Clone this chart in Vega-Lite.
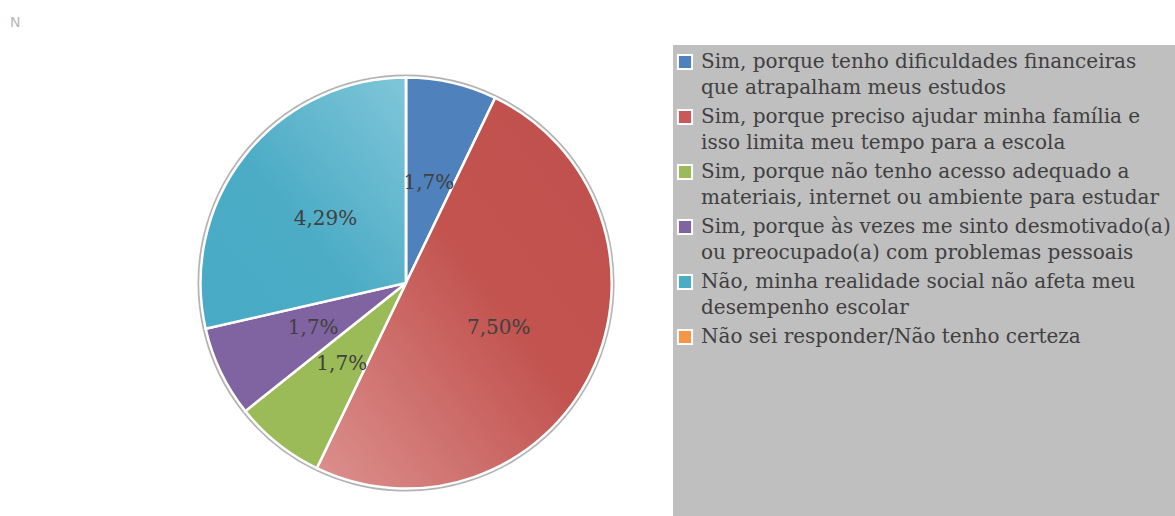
{
  "$schema": "https://vega.github.io/schema/vega-lite/v6.json",
  "width": 412,
  "height": 412,
  "autosize": {"type": "none"},
  "padding": {"left": 200, "top": 77, "right": 563, "bottom": 27},
  "background": "white",
  "title": {"text": "N", "anchor": "start", "frame": "group", "dx": -190, "offset": 15, "baseline": "top", "fontSize": 14, "fontWeight": "normal", "font": "DejaVu Sans", "color": "#b8b8b8"},
  "data": {
    "values": [
      {"ord": 1, "categoria": "Sim, porque tenho dificuldades financeiras\nque atrapalham meus estudos", "n": 1, "rotulo": "1,7%"},
      {"ord": 2, "categoria": "Sim, porque preciso ajudar minha família e\nisso limita meu tempo para a escola", "n": 7, "rotulo": "7,50%"},
      {"ord": 3, "categoria": "Sim, porque não tenho acesso adequado a\nmateriais, internet ou ambiente para estudar", "n": 1, "rotulo": "1,7%"},
      {"ord": 4, "categoria": "Sim, porque às vezes me sinto desmotivado(a)\nou preocupado(a) com problemas pessoais", "n": 1, "rotulo": "1,7%"},
      {"ord": 5, "categoria": "Não, minha realidade social não afeta meu\ndesempenho escolar", "n": 4, "rotulo": "4,29%"},
      {"ord": 6, "categoria": "Não sei responder/Não tenho certeza", "n": 0, "rotulo": ""}
    ]
  },
  "encoding": {
    "theta": {"field": "n", "type": "quantitative", "stack": true},
    "order": {"field": "ord", "type": "quantitative"}
  },
  "layer": [
    {"mark": {"type": "arc", "outerRadius": 208.5, "fill": "#b3b3b3", "stroke": null}},
    {
      "mark": {"type": "arc", "outerRadius": 205.5, "stroke": "white", "strokeWidth": 2.5},
      "encoding": {
        "color": {
          "field": "categoria",
          "type": "nominal",
          "condition": [
            {"test": "datum.ord == 2", "value": {"gradient": "linear", "x1": 1, "y1": 0, "x2": 0, "y2": 1, "stops": [{"offset": 0, "color": "#c0504d"}, {"offset": 0.45, "color": "#c2534f"}, {"offset": 1, "color": "#dc918f"}]}},
            {"test": "datum.ord == 5", "value": {"gradient": "linear", "x1": 1, "y1": 0, "x2": 0, "y2": 1, "stops": [{"offset": 0, "color": "#80c6d9"}, {"offset": 0.55, "color": "#4cacc6"}, {"offset": 1, "color": "#48aac5"}]}}
          ],
          "scale": {
            "domain": [
              "Sim, porque tenho dificuldades financeiras\nque atrapalham meus estudos",
              "Sim, porque preciso ajudar minha família e\nisso limita meu tempo para a escola",
              "Sim, porque não tenho acesso adequado a\nmateriais, internet ou ambiente para estudar",
              "Sim, porque às vezes me sinto desmotivado(a)\nou preocupado(a) com problemas pessoais",
              "Não, minha realidade social não afeta meu\ndesempenho escolar",
              "Não sei responder/Não tenho certeza"
            ],
            "range": ["#4f81bd", "#c9585a", "#9bbb59", "#8064a2", "#4bacc6", "#f79646"]
          },
          "legend": {
            "orient": "none",
            "legendX": 473,
            "legendY": -32,
            "title": " ",
            "titleOrient": "bottom",
            "titlePadding": 160,
            "titleFontSize": 10,
            "fillColor": "#bfbfbf",
            "padding": 7,
            "symbolType": "square",
            "symbolSize": 200,
            "symbolOffset": -5,
            "symbolStrokeColor": "white",
            "symbolStrokeWidth": 2,
            "symbolOpacity": 1,
            "labelFont": "DejaVu Serif",
            "labelFontSize": 20,
            "labelColor": "#404040",
            "labelLimit": 700,
            "labelOffset": 6,
            "rowPadding": 7,
            "labelExpr": "split(datum.label, '\\n')",
            "encode": {"labels": {"update": {"lineHeight": {"value": 26}}}}
          }
        }
      }
    },
    {
      "mark": {"type": "text", "radius": 103, "font": "DejaVu Serif", "fontSize": 20, "fill": "#404040"},
      "encoding": {"text": {"field": "rotulo", "type": "nominal"}}
    }
  ]
}
